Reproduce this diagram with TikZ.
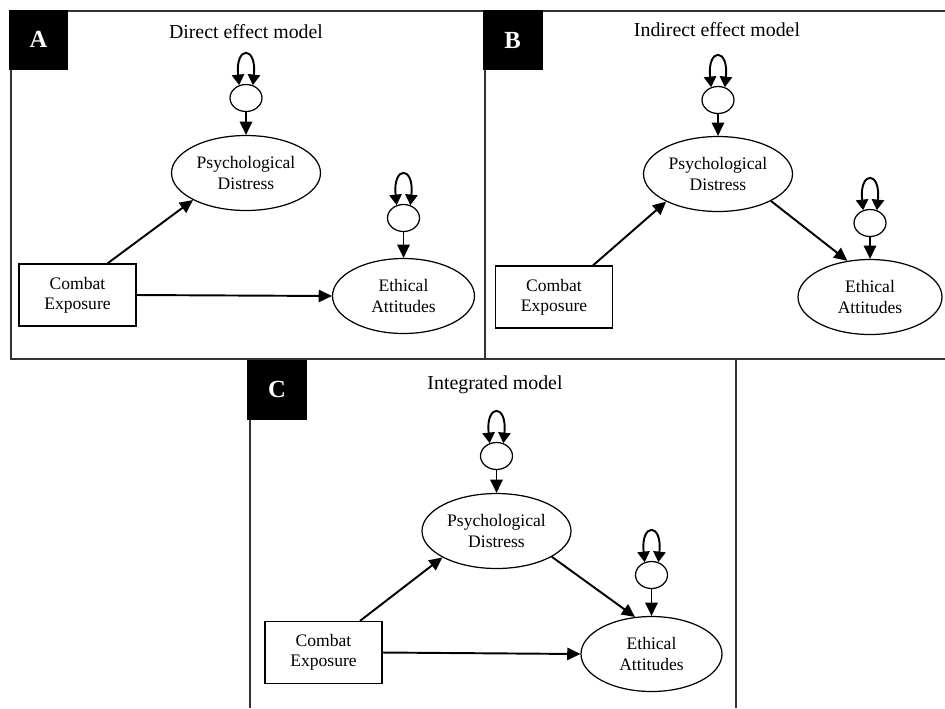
\documentclass[tikz,border=0pt]{standalone}
\usepackage{fontspec}
\setmainfont{Liberation Serif}
\usepackage{tikz}
\usetikzlibrary{arrows.meta,shapes.geometric}

\begin{document}
\begin{tikzpicture}[x=0.02cm,y=-0.02cm,
  latent/.style={ellipse,draw,line width=0.7pt,inner sep=0pt,minimum height=1.5cm,align=center,font=\fontsize{10}{11.5}\selectfont},
  observed/.style={rectangle,draw,line width=0.7pt,inner sep=0pt,minimum width=2.34cm,minimum height=1.24cm,align=center,font=\fontsize{10}{11.5}\selectfont},
  resid/.style={ellipse,draw,line width=0.7pt,inner sep=0pt,minimum width=0.64cm,minimum height=0.54cm},
  panel/.style={fill=black,text=white,inner sep=0pt,minimum width=1.2cm,minimum height=1.2cm,font=\fontsize{14}{16}\selectfont\bfseries},
  title/.style={font=\fontsize{11.3}{13}\selectfont},
  effect/.style={-{Triangle[length=7.5pt,width=7pt]},line width=1.1pt},
  variance/.style={{Triangle[length=6pt,width=7pt]}-{Triangle[length=6pt,width=7pt]},line width=1.1pt},
  frame/.style={line width=0.6pt,black!80}]
  \useasboundingbox (0,0) rectangle (945,708);

  % Frames
  \draw[frame] (11,11) -- (945,11);
  \draw[frame] (11,11) -- (11,359) -- (945,359);
  \draw[frame] (485,11) -- (485,359);
  \draw[frame] (250,359) -- (250,708);
  \draw[frame] (736,359) -- (736,708);

  % Panel A
  \node[panel] (labA) at (38.5,39.5) {A};
  \node[title] (titA) at (246,32) {Direct effect model};
  \node[latent,minimum width=2.98cm] (pdA) at (246,173) {Psychological\\Distress};
  \node[latent,minimum width=2.84cm] (eaA) at (403.5,296) {Ethical\\Attitudes};
  \node[observed] (ceA) at (77.5,295) {Combat\\Exposure};
  \node[resid] (rpA) at (246,98) {};
  \node[resid] (reA) at (403.5,218) {};
  \draw[variance] (rpA.118) .. controls +(96:0.8cm) and +(84:0.8cm) .. (rpA.62);
  \draw[variance] (reA.118) .. controls +(96:0.8cm) and +(84:0.8cm) .. (reA.62);
  \draw[effect] (rpA.south) -- (pdA.north);
  \draw[effect] (reA.south) -- (eaA.north);
  \draw[effect] ([xshift=0.6cm]ceA.north) -- (pdA.207);
  \draw[effect] (ceA.east) -- (eaA.west);

  % Panel B
  \node[panel] (labB) at (512.5,40) {B};
  \node[title] (titB) at (717,30) {Indirect effect model};
  \node[latent,minimum width=2.98cm] (pdB) at (718,174) {Psychological\\Distress};
  \node[latent,minimum width=2.88cm] (eaB) at (870,297) {Ethical\\Attitudes};
  \node[observed] (ceB) at (554,297) {Combat\\Exposure};
  \node[resid] (rpB) at (718,100) {};
  \node[resid] (reB) at (870,223) {};
  \draw[variance] (rpB.118) .. controls +(96:0.8cm) and +(84:0.8cm) .. (rpB.62);
  \draw[variance] (reB.118) .. controls +(96:0.8cm) and +(84:0.8cm) .. (reB.62);
  \draw[effect] (rpB.south) -- (pdB.north);
  \draw[effect] (reB.south) -- (eaB.north);
  \draw[effect] ([xshift=0.78cm]ceB.north) -- (pdB.208);
  \draw[effect] (pdB.333) -- (eaB.122);

  % Panel C
  \node[panel] (labC) at (277,389.5) {C};
  \node[title] (titC) at (495,385) {Integrated model};
  \node[latent,minimum width=2.98cm] (pdC) at (496.5,531) {Psychological\\Distress};
  \node[latent,minimum width=2.82cm] (eaC) at (651.5,654) {Ethical\\Attitudes};
  \node[observed] (ceC) at (323.5,652.5) {Combat\\Exposure};
  \node[resid] (rpC) at (496.5,456) {};
  \node[resid] (reC) at (651.5,575) {};
  \draw[variance] (rpC.118) .. controls +(96:0.8cm) and +(84:0.8cm) .. (rpC.62);
  \draw[variance] (reC.118) .. controls +(96:0.8cm) and +(84:0.8cm) .. (reC.62);
  \draw[effect] (rpC.south) -- (pdC.north);
  \draw[effect] (reC.south) -- (eaC.north);
  \draw[effect] ([xshift=0.73cm]ceC.north) -- (pdC.206);
  \draw[effect] (pdC.335) -- (eaC.114);
  \draw[effect] (ceC.east) -- (eaC.west);
\end{tikzpicture}
\end{document}
